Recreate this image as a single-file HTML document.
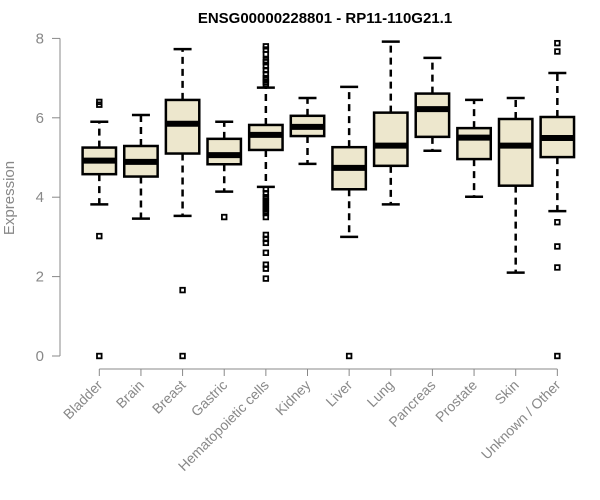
<!DOCTYPE html>
<html><head><meta charset="utf-8"><style>
body{margin:0;background:#fff;}
svg{display:block;font-family:"Liberation Sans",Arial,sans-serif;}
</style></head><body>
<svg id="chart" width="600" height="500">
<text x="325" y="23" text-anchor="middle" font-weight="bold" font-size="15">ENSG00000228801 - RP11-110G21.1</text>
<text transform="translate(14,198) rotate(-90)" text-anchor="middle" font-size="15" fill="#888">Expression</text>
<g id="yaxis"></g>
<g id="xaxis"></g>
<g id="boxes"></g>
</svg>
<script>
const categories=["Bladder","Brain","Breast","Gastric","Hematopoietic cells","Kidney","Liver","Lung","Pancreas","Prostate","Skin","Unknown / Other"];
const whiskerLow=[3.82,3.46,3.53,4.14,4.26,4.84,3.0,3.82,5.17,4.01,2.1,3.65];
const q1=[4.58,4.52,5.1,4.83,5.19,5.54,4.2,4.79,5.52,4.96,4.29,5.01];
const median=[4.92,4.89,5.85,5.06,5.57,5.77,4.74,5.3,6.22,5.5,5.3,5.49];
const q3=[5.25,5.29,6.45,5.47,5.82,6.05,5.26,6.13,6.61,5.74,5.97,6.02];
const whiskerHigh=[5.9,6.07,7.73,5.9,6.76,6.5,6.78,7.92,7.51,6.45,6.5,7.13];
const outliers=[[6.4,6.33,3.02,0],[],[1.66,0],[3.5],
[7.8,7.72,7.6,7.45,7.4,7.3,7.2,7.1,7.0,6.95,6.9,6.85,4.2,4.1,4.0,3.95,3.9,3.85,3.8,3.75,3.7,3.65,3.6,3.5,3.05,2.95,2.85,2.6,2.3,2.2,1.95],
[],[0],[],[],[],[],[7.88,7.67,3.37,2.76,2.23,0]];
const yTicks=[0,2,4,6,8];
const NS="http://www.w3.org/2000/svg";
function yS(v){return 356-v*39.7;}
function xS(i){return 99.3+i*41.64;}
function mk(p,t,a){const e=document.createElementNS(NS,t);for(const k in a)e.setAttribute(k,a[k]);p.appendChild(e);return e;}
const ya=document.getElementById('yaxis');
let l=mk(ya,'line',{x1:60,x2:60,y1:yS(8),y2:yS(0),stroke:'#888'});
yTicks.forEach(t=>{
 const tk=mk(ya,'line',{x1:52,x2:60,y1:yS(t),y2:yS(t),stroke:'#888'});
 
 
 const tx=mk(ya,'text',{x:44,y:yS(t)+5,'text-anchor':'end','font-size':15,fill:'#888'});
 tx.textContent=t;
 
 
});
const xa=document.getElementById('xaxis');
mk(xa,'line',{x1:xS(0),x2:xS(categories.length-1),y1:369,y2:369,stroke:'#888'});
categories.forEach((c,i)=>{
 const tk=mk(xa,'line',{x1:xS(i),x2:xS(i),y1:369,y2:376,stroke:'#888'});
 
 
 const tx=mk(xa,'text',{transform:`translate(${xS(i)+4},${386}) rotate(-45)`,'text-anchor':'end','font-size':14,fill:'#888'});
 tx.textContent=c;
 
 
});
const bx=document.getElementById('boxes');
categories.forEach((c,i)=>{
 const x=xS(i),hw=16.7;
 const g=mk(bx,'g',{});
 
 
 mk(g,'line',{x1:x,x2:x,y1:yS(q3[i]),y2:yS(whiskerHigh[i]),stroke:'#000','stroke-width':2.5,'stroke-dasharray':'7,5'});
 mk(g,'line',{x1:x,x2:x,y1:yS(q1[i]),y2:yS(whiskerLow[i]),stroke:'#000','stroke-width':2.5,'stroke-dasharray':'7,5'});
 mk(g,'line',{x1:x-9,x2:x+9,y1:yS(whiskerHigh[i]),y2:yS(whiskerHigh[i]),stroke:'#000','stroke-width':2.5});
 mk(g,'line',{x1:x-9,x2:x+9,y1:yS(whiskerLow[i]),y2:yS(whiskerLow[i]),stroke:'#000','stroke-width':2.5});
 mk(g,'rect',{x:x-hw,y:yS(q3[i]),width:2*hw,height:yS(q1[i])-yS(q3[i]),fill:'#EDE7CD',stroke:'#000','stroke-width':2.5});
 mk(g,'line',{x1:x-hw,x2:x+hw,y1:yS(median[i]),y2:yS(median[i]),stroke:'#000','stroke-width':6});
 outliers[i].forEach(v=>{
  const o=mk(g,'rect',{x:x-2.3,y:yS(v)-2.3,width:4.6,height:4.6,fill:'none',stroke:'#000','stroke-width':1.8});
  
  
 });
});
</script>
</body></html>
